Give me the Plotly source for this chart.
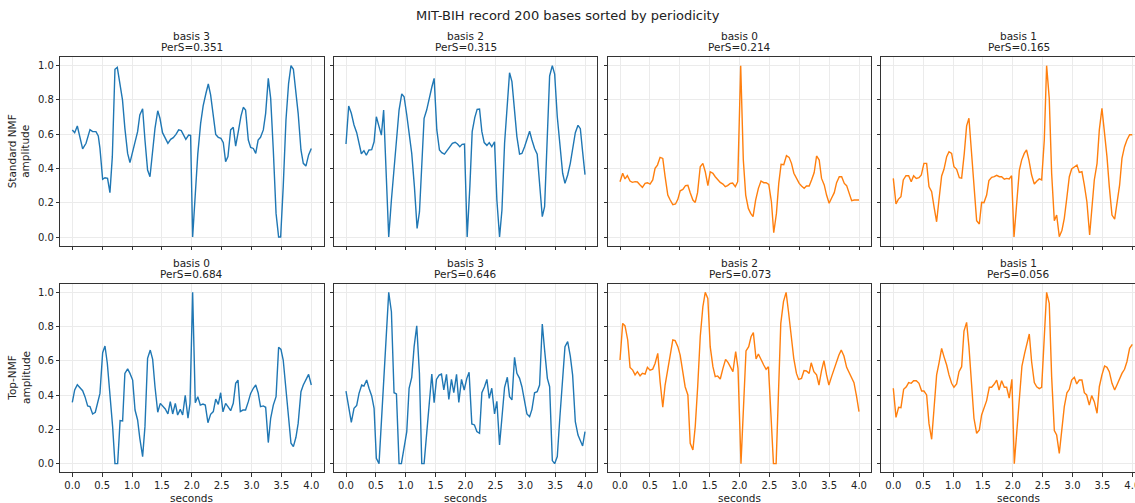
import plotly.graph_objects as go

# ---------------- data ----------------
std_b3_t = [0, 0.04, 0.084, 0.128, 0.173, 0.23, 0.296, 0.34, 0.396, 0.435, 0.463, 0.508, 0.547, 0.59, 0.63, 0.67, 0.714, 0.753, 0.8, 0.84, 0.88, 0.926, 0.965, 1.01, 1.05, 1.093, 1.13, 1.177, 1.216, 1.26, 1.30, 1.345, 1.384, 1.43, 1.467, 1.51, 1.556, 1.60, 1.646, 1.69, 1.735, 1.78, 1.824, 1.87, 1.90, 1.947, 1.98, 2.014, 2.058, 2.10, 2.148, 2.19, 2.237, 2.276, 2.315, 2.36, 2.40, 2.443, 2.488, 2.527, 2.566, 2.605, 2.65, 2.694, 2.734, 2.778, 2.823, 2.862, 2.90, 2.946, 2.985, 3.03, 3.07, 3.11, 3.15, 3.197, 3.236, 3.28, 3.32, 3.364, 3.41, 3.453, 3.487, 3.53, 3.576, 3.62, 3.66, 3.70, 3.743, 3.78, 3.827, 3.866, 3.91, 3.955, 4.0]
std_b3_v = [0.625, 0.609, 0.648, 0.586, 0.514, 0.547, 0.627, 0.615, 0.615, 0.59, 0.517, 0.337, 0.346, 0.342, 0.259, 0.469, 0.979, 0.99, 0.897, 0.80, 0.634, 0.488, 0.434, 0.498, 0.537, 0.615, 0.712, 0.749, 0.566, 0.391, 0.352, 0.498, 0.634, 0.737, 0.693, 0.609, 0.576, 0.547, 0.570, 0.58, 0.599, 0.625, 0.621, 0.595, 0.57, 0.595, 0.593, 0.0, 0.226, 0.484, 0.663, 0.765, 0.839, 0.893, 0.829, 0.693, 0.599, 0.582, 0.576, 0.551, 0.44, 0.469, 0.625, 0.640, 0.531, 0.615, 0.706, 0.757, 0.741, 0.566, 0.523, 0.517, 0.488, 0.566, 0.582, 0.625, 0.722, 0.926, 0.809, 0.508, 0.138, 0.0, 0.0, 0.294, 0.683, 0.897, 1.0, 0.979, 0.858, 0.722, 0.508, 0.430, 0.414, 0.479, 0.517]

std_b2_t = [0, 0.045, 0.089, 0.134, 0.179, 0.223, 0.257, 0.30, 0.34, 0.385, 0.43, 0.47, 0.508, 0.553, 0.592, 0.63, 0.676, 0.715, 0.76, 0.804, 0.849, 0.888, 0.933, 0.972, 1.017, 1.056, 1.10, 1.145, 1.19, 1.23, 1.268, 1.307, 1.35, 1.397, 1.436, 1.475, 1.52, 1.564, 1.603, 1.648, 1.69, 1.737, 1.78, 1.827, 1.866, 1.905, 1.944, 1.983, 2.028, 2.073, 2.112, 2.156, 2.195, 2.235, 2.274, 2.313, 2.358, 2.397, 2.44, 2.486, 2.525, 2.57, 2.61, 2.654, 2.70, 2.737, 2.777, 2.821, 2.86, 2.905, 2.944, 2.989, 3.028, 3.073, 3.112, 3.156, 3.20, 3.24, 3.285, 3.324, 3.37, 3.408, 3.453, 3.492, 3.536, 3.58, 3.626, 3.665, 3.71, 3.754, 3.793, 3.838, 3.883, 3.922, 3.96, 4.0]
std_b2_v = [0.543, 0.765, 0.722, 0.654, 0.609, 0.547, 0.486, 0.504, 0.477, 0.508, 0.51, 0.556, 0.702, 0.644, 0.595, 0.741, 0.372, 0.0, 0.216, 0.41, 0.566, 0.741, 0.835, 0.819, 0.712, 0.589, 0.488, 0.294, 0.05, 0.148, 0.41, 0.693, 0.741, 0.819, 0.874, 0.926, 0.625, 0.508, 0.492, 0.484, 0.504, 0.523, 0.547, 0.553, 0.543, 0.527, 0.541, 0.543, 0.0, 0.294, 0.615, 0.698, 0.745, 0.747, 0.615, 0.551, 0.535, 0.551, 0.527, 0.556, 0.216, 0.0, 0.158, 0.547, 0.761, 0.959, 0.907, 0.741, 0.586, 0.484, 0.488, 0.527, 0.566, 0.617, 0.566, 0.517, 0.484, 0.294, 0.119, 0.177, 0.547, 0.94, 1.0, 0.951, 0.702, 0.527, 0.372, 0.313, 0.362, 0.43, 0.508, 0.609, 0.652, 0.632, 0.498, 0.364]

std_b0_t = [0, 0.045, 0.084, 0.123, 0.168, 0.207, 0.252, 0.291, 0.336, 0.375, 0.42, 0.459, 0.503, 0.548, 0.587, 0.627, 0.671, 0.716, 0.755, 0.80, 0.84, 0.884, 0.929, 0.968, 1.007, 1.052, 1.096, 1.136, 1.175, 1.22, 1.259, 1.298, 1.343, 1.387, 1.427, 1.471, 1.51, 1.555, 1.594, 1.634, 1.678, 1.723, 1.762, 1.80, 1.846, 1.885, 1.93, 1.97, 2.02, 2.064, 2.104, 2.148, 2.187, 2.227, 2.27, 2.316, 2.36, 2.405, 2.445, 2.49, 2.534, 2.573, 2.618, 2.657, 2.696, 2.741, 2.786, 2.83, 2.87, 2.91, 2.954, 2.999, 3.038, 3.082, 3.12, 3.166, 3.206, 3.25, 3.29, 3.334, 3.373, 3.418, 3.457, 3.50, 3.54, 3.586, 3.625, 3.67, 3.71, 3.754, 3.793, 3.838, 3.877, 3.92, 3.96, 4.0]
std_b0_v = [0.323, 0.372, 0.339, 0.358, 0.327, 0.319, 0.323, 0.321, 0.304, 0.29, 0.313, 0.317, 0.309, 0.333, 0.401, 0.42, 0.465, 0.459, 0.352, 0.245, 0.216, 0.189, 0.193, 0.22, 0.27, 0.278, 0.30, 0.302, 0.259, 0.216, 0.202, 0.259, 0.41, 0.43, 0.381, 0.30, 0.381, 0.372, 0.352, 0.337, 0.319, 0.309, 0.294, 0.30, 0.313, 0.315, 0.294, 0.323, 1.0, 0.449, 0.245, 0.167, 0.138, 0.119, 0.216, 0.284, 0.327, 0.317, 0.317, 0.307, 0.206, 0.025, 0.138, 0.313, 0.424, 0.422, 0.475, 0.465, 0.43, 0.372, 0.342, 0.313, 0.298, 0.284, 0.298, 0.298, 0.333, 0.376, 0.473, 0.449, 0.342, 0.304, 0.245, 0.197, 0.226, 0.259, 0.317, 0.352, 0.352, 0.313, 0.30, 0.255, 0.212, 0.216, 0.216, 0.216]

std_b1_t = [0, 0.045, 0.084, 0.128, 0.167, 0.212, 0.257, 0.30, 0.34, 0.385, 0.43, 0.469, 0.513, 0.558, 0.597, 0.642, 0.686, 0.725, 0.764, 0.809, 0.848, 0.893, 0.932, 0.976, 1.015, 1.06, 1.105, 1.144, 1.188, 1.227, 1.266, 1.31, 1.356, 1.395, 1.44, 1.478, 1.517, 1.562, 1.60, 1.646, 1.69, 1.73, 1.774, 1.813, 1.858, 1.897, 1.94, 1.98, 2.02, 2.064, 2.11, 2.148, 2.192, 2.23, 2.27, 2.315, 2.36, 2.40, 2.443, 2.483, 2.527, 2.566, 2.61, 2.65, 2.695, 2.734, 2.778, 2.823, 2.862, 2.90, 2.946, 2.985, 3.03, 3.074, 3.113, 3.157, 3.197, 3.24, 3.286, 3.325, 3.364, 3.41, 3.448, 3.492, 3.53, 3.576, 3.615, 3.66, 3.705, 3.743, 3.788, 3.827, 3.87, 3.91, 3.955, 4.0]
std_b1_v = [0.342, 0.193, 0.22, 0.235, 0.333, 0.358, 0.358, 0.323, 0.358, 0.342, 0.346, 0.362, 0.43, 0.43, 0.294, 0.265, 0.167, 0.089, 0.216, 0.356, 0.395, 0.469, 0.498, 0.488, 0.41, 0.395, 0.346, 0.344, 0.488, 0.649, 0.693, 0.488, 0.235, 0.095, 0.076, 0.202, 0.2, 0.245, 0.329, 0.348, 0.352, 0.36, 0.352, 0.352, 0.337, 0.342, 0.339, 0.358, 0.0, 0.216, 0.391, 0.449, 0.488, 0.508, 0.449, 0.362, 0.309, 0.325, 0.339, 0.333, 0.566, 1.0, 0.809, 0.372, 0.095, 0.128, 0.002, 0.04, 0.109, 0.216, 0.352, 0.397, 0.407, 0.420, 0.377, 0.381, 0.304, 0.206, 0.012, 0.177, 0.333, 0.43, 0.625, 0.751, 0.625, 0.469, 0.294, 0.128, 0.105, 0.206, 0.304, 0.459, 0.527, 0.566, 0.597, 0.597]

top_b0_t = [0, 0.04, 0.084, 0.128, 0.173, 0.212, 0.257, 0.296, 0.34, 0.385, 0.424, 0.463, 0.508, 0.547, 0.586, 0.63, 0.675, 0.714, 0.759, 0.80, 0.842, 0.88, 0.926, 0.965, 1.01, 1.05, 1.093, 1.13, 1.177, 1.216, 1.26, 1.305, 1.345, 1.384, 1.43, 1.473, 1.517, 1.556, 1.60, 1.64, 1.68, 1.724, 1.763, 1.807, 1.847, 1.89, 1.936, 1.97, 2.014, 2.058, 2.10, 2.142, 2.187, 2.226, 2.27, 2.315, 2.36, 2.40, 2.443, 2.483, 2.522, 2.566, 2.605, 2.65, 2.694, 2.734, 2.773, 2.812, 2.856, 2.90, 2.946, 2.985, 3.03, 3.07, 3.11, 3.15, 3.197, 3.236, 3.28, 3.32, 3.364, 3.41, 3.453, 3.492, 3.53, 3.576, 3.62, 3.66, 3.70, 3.743, 3.78, 3.827, 3.866, 3.91, 3.955, 4.0]
top_b0_v = [0.358, 0.43, 0.461, 0.444, 0.426, 0.391, 0.337, 0.333, 0.29, 0.30, 0.348, 0.41, 0.648, 0.687, 0.586, 0.42, 0.216, 0.0, 0.0, 0.251, 0.249, 0.527, 0.553, 0.527, 0.488, 0.313, 0.255, 0.148, 0.041, 0.216, 0.615, 0.663, 0.609, 0.449, 0.30, 0.352, 0.333, 0.319, 0.29, 0.362, 0.29, 0.352, 0.284, 0.317, 0.284, 0.399, 0.265, 0.352, 1.0, 0.356, 0.391, 0.342, 0.348, 0.342, 0.239, 0.288, 0.304, 0.377, 0.346, 0.414, 0.302, 0.352, 0.333, 0.309, 0.352, 0.469, 0.488, 0.304, 0.313, 0.313, 0.362, 0.41, 0.44, 0.459, 0.414, 0.333, 0.337, 0.329, 0.123, 0.265, 0.342, 0.391, 0.679, 0.667, 0.605, 0.43, 0.255, 0.119, 0.099, 0.154, 0.235, 0.42, 0.459, 0.492, 0.521, 0.459]

top_b3_t = [0, 0.045, 0.089, 0.134, 0.179, 0.218, 0.263, 0.30, 0.346, 0.385, 0.43, 0.47, 0.508, 0.553, 0.592, 0.63, 0.676, 0.715, 0.76, 0.804, 0.844, 0.888, 0.927, 0.972, 1.017, 1.056, 1.10, 1.14, 1.184, 1.229, 1.268, 1.307, 1.352, 1.39, 1.436, 1.475, 1.514, 1.559, 1.598, 1.637, 1.682, 1.721, 1.765, 1.804, 1.85, 1.888, 1.933, 1.978, 2.022, 2.06, 2.106, 2.15, 2.19, 2.235, 2.274, 2.318, 2.358, 2.397, 2.44, 2.486, 2.525, 2.57, 2.61, 2.654, 2.70, 2.737, 2.777, 2.821, 2.86, 2.905, 2.944, 2.989, 3.028, 3.073, 3.112, 3.156, 3.20, 3.24, 3.285, 3.324, 3.37, 3.408, 3.453, 3.492, 3.536, 3.58, 3.626, 3.665, 3.71, 3.754, 3.793, 3.838, 3.883, 3.922, 3.96, 4.0]
top_b3_v = [0.424, 0.333, 0.241, 0.323, 0.34, 0.41, 0.459, 0.453, 0.488, 0.44, 0.395, 0.323, 0.031, 0.0, 0.235, 0.488, 0.722, 1.0, 0.887, 0.414, 0.407, 0.0, 0.0, 0.089, 0.187, 0.44, 0.504, 0.683, 0.805, 0.527, 0.0, 0.0, 0.196, 0.362, 0.523, 0.356, 0.492, 0.517, 0.523, 0.43, 0.521, 0.375, 0.492, 0.414, 0.521, 0.358, 0.492, 0.43, 0.498, 0.533, 0.232, 0.226, 0.187, 0.177, 0.414, 0.449, 0.492, 0.381, 0.44, 0.29, 0.364, 0.109, 0.294, 0.446, 0.504, 0.391, 0.372, 0.621, 0.527, 0.498, 0.449, 0.362, 0.29, 0.274, 0.317, 0.414, 0.42, 0.459, 0.815, 0.663, 0.498, 0.449, 0.018, 0.0, 0.041, 0.274, 0.517, 0.683, 0.712, 0.628, 0.517, 0.245, 0.167, 0.128, 0.103, 0.187]

top_b2_t = [0, 0.045, 0.084, 0.129, 0.168, 0.213, 0.252, 0.291, 0.336, 0.375, 0.42, 0.459, 0.503, 0.548, 0.587, 0.632, 0.671, 0.716, 0.755, 0.80, 0.84, 0.884, 0.923, 0.968, 1.007, 1.052, 1.09, 1.136, 1.175, 1.22, 1.259, 1.30, 1.343, 1.387, 1.427, 1.47, 1.51, 1.555, 1.594, 1.634, 1.678, 1.723, 1.767, 1.807, 1.846, 1.89, 1.936, 1.975, 2.025, 2.07, 2.109, 2.154, 2.193, 2.232, 2.277, 2.316, 2.36, 2.405, 2.445, 2.484, 2.528, 2.568, 2.613, 2.652, 2.691, 2.736, 2.78, 2.82, 2.863, 2.908, 2.953, 2.99, 3.038, 3.08, 3.12, 3.166, 3.20, 3.245, 3.29, 3.33, 3.373, 3.413, 3.457, 3.496, 3.541, 3.58, 3.625, 3.664, 3.703, 3.748, 3.793, 3.832, 3.87, 3.916, 3.96, 4.0]
top_b2_v = [0.605, 0.819, 0.804, 0.722, 0.562, 0.546, 0.518, 0.537, 0.512, 0.527, 0.523, 0.562, 0.546, 0.552, 0.585, 0.644, 0.479, 0.329, 0.459, 0.546, 0.644, 0.722, 0.718, 0.683, 0.634, 0.546, 0.449, 0.401, 0.119, 0.08, 0.216, 0.449, 0.741, 0.916, 1.0, 0.965, 0.683, 0.566, 0.508, 0.512, 0.494, 0.556, 0.609, 0.591, 0.562, 0.537, 0.654, 0.556, 0.0, 0.313, 0.658, 0.683, 0.741, 0.765, 0.611, 0.64, 0.605, 0.576, 0.551, 0.566, 0.274, 0.0, 0.0, 0.43, 0.819, 0.946, 1.0, 0.887, 0.741, 0.615, 0.527, 0.492, 0.498, 0.543, 0.541, 0.527, 0.589, 0.537, 0.518, 0.459, 0.543, 0.601, 0.518, 0.459, 0.508, 0.551, 0.595, 0.634, 0.663, 0.628, 0.562, 0.531, 0.508, 0.473, 0.391, 0.304]

top_b1_t = [0, 0.045, 0.089, 0.128, 0.173, 0.218, 0.257, 0.30, 0.34, 0.385, 0.43, 0.474, 0.513, 0.558, 0.597, 0.642, 0.68, 0.725, 0.764, 0.809, 0.848, 0.893, 0.932, 0.976, 1.015, 1.06, 1.10, 1.144, 1.183, 1.227, 1.266, 1.31, 1.35, 1.395, 1.44, 1.478, 1.523, 1.562, 1.607, 1.646, 1.69, 1.73, 1.77, 1.813, 1.858, 1.897, 1.94, 1.985, 2.025, 2.07, 2.114, 2.153, 2.198, 2.237, 2.276, 2.315, 2.36, 2.40, 2.443, 2.483, 2.527, 2.566, 2.61, 2.65, 2.695, 2.734, 2.778, 2.823, 2.862, 2.906, 2.946, 2.985, 3.03, 3.07, 3.113, 3.157, 3.197, 3.236, 3.28, 3.32, 3.364, 3.41, 3.448, 3.492, 3.536, 3.576, 3.615, 3.66, 3.705, 3.743, 3.788, 3.827, 3.87, 3.91, 3.955, 4.0]
top_b1_v = [0.44, 0.27, 0.329, 0.327, 0.434, 0.449, 0.473, 0.469, 0.484, 0.484, 0.469, 0.424, 0.424, 0.401, 0.235, 0.142, 0.313, 0.518, 0.586, 0.673, 0.625, 0.576, 0.518, 0.469, 0.446, 0.465, 0.537, 0.566, 0.774, 0.825, 0.683, 0.488, 0.265, 0.177, 0.196, 0.284, 0.323, 0.368, 0.446, 0.446, 0.465, 0.488, 0.43, 0.484, 0.446, 0.446, 0.383, 0.492, 0.0, 0.187, 0.391, 0.57, 0.644, 0.693, 0.757, 0.595, 0.473, 0.449, 0.438, 0.446, 0.732, 1.0, 0.936, 0.508, 0.193, 0.167, 0.06, 0.187, 0.333, 0.414, 0.434, 0.488, 0.504, 0.465, 0.488, 0.488, 0.414, 0.401, 0.342, 0.397, 0.362, 0.294, 0.449, 0.518, 0.57, 0.562, 0.537, 0.469, 0.43, 0.459, 0.498, 0.527, 0.551, 0.595, 0.673, 0.697]

basis_labels = ["basis 3", "basis 2", "basis 0", "basis 1", "basis 0", "basis 3", "basis 2", "basis 1"]
pers_labels = ["PerS=0.351", "PerS=0.315", "PerS=0.214", "PerS=0.165", "PerS=0.684", "PerS=0.646", "PerS=0.073", "PerS=0.056"]
row_labels = ["Standard NMF<br>amplitude", "Top-NMF<br>amplitude"]
x_ticks = [0.0, 0.5, 1.0, 1.5, 2.0, 2.5, 3.0, 3.5, 4.0]
y_ticks = [0.0, 0.2, 0.4, 0.6, 0.8, 1.0]
title_text = "MIT-BIH record 200 bases sorted by periodicity"
x_label = "seconds"

series_t = [std_b3_t, std_b2_t, std_b0_t, std_b1_t, top_b0_t, top_b3_t, top_b2_t, top_b1_t]
series_v = [std_b3_v, std_b2_v, std_b0_v, std_b1_v, top_b0_v, top_b3_v, top_b2_v, top_b1_v]

# ---------------- layout ----------------
W, H = 1135, 503
BLUE, ORANGE = "#1f77b4", "#ff7f0e"
colors = [BLUE, BLUE, ORANGE, ORANGE, BLUE, BLUE, ORANGE, ORANGE]
FONT = "DejaVu Sans"
FRAME = "#333333"

# pixel positions of axis frames
col_px = [(60.3, 323.5), (334.0, 597.0), (608.0, 871.0), (881.3, 1135.0)]
col_zero_px = [72.3, 346.0, 620.0, 893.3]
px_per_s = 59.75
row_px = [(57.1, 245.6), (283.8, 472.2)]

fig = go.Figure()
annotations = []
layout = {}
for i in range(8):
    r, c = divmod(i, 4)
    n = "" if i == 0 else str(i + 1)
    x0, x1 = col_px[c]
    y0, y1 = row_px[r]
    xr = [(x0 - col_zero_px[c]) / px_per_s, (x1 - col_zero_px[c]) / px_per_s]
    fig.add_trace(go.Scatter(x=series_t[i], y=series_v[i], mode="lines",
                             line=dict(color=colors[i], width=1.4),
                             xaxis="x" + n, yaxis="y" + n, showlegend=False,
                             hoverinfo="skip"))
    layout["xaxis" + n] = dict(
        domain=[x0 / W, x1 / W], range=xr, anchor="y" + n, automargin=False,
        tickvals=x_ticks, ticktext=[f"{v:.1f}" for v in x_ticks],
        showticklabels=(r == 1), ticks="outside", ticklen=3.5, tickwidth=0.8,
        tickcolor=FRAME, showline=True, linecolor=FRAME, linewidth=1, mirror=True,
        showgrid=True, gridcolor="#ebebeb", gridwidth=0.8, zeroline=False,
        ticklabeloverflow="allow",
        tickfont=dict(family=FONT, size=10, color="#222"), fixedrange=True)
    layout["yaxis" + n] = dict(
        domain=[1 - y1 / H, 1 - y0 / H], range=[-0.05, 1.05], anchor="x" + n, automargin=False,
        tickvals=y_ticks, ticktext=[f"{v:.1f}" for v in y_ticks],
        showticklabels=(c == 0), ticks="outside", ticklen=3.5, tickwidth=0.8,
        tickcolor=FRAME, showline=True, linecolor=FRAME, linewidth=1, mirror=True,
        showgrid=True, gridcolor="#ebebeb", gridwidth=0.8, zeroline=False,
        tickfont=dict(family=FONT, size=10, color="#222"), fixedrange=True)
    xc = ((x0 + col_zero_px[c] + 4.2 * px_per_s + 12) / 2) / W if c == 3 else ((x0 + x1) / 2) / W
    annotations.append(dict(text=basis_labels[i], x=xc, y=1 - (y0 - 20.6) / H,
                            xref="paper", yref="paper", xanchor="center", yanchor="middle",
                            showarrow=False, font=dict(family=FONT, size=10.5, color="#222")))
    annotations.append(dict(text=pers_labels[i], x=xc, y=1 - (y0 - 9.8) / H,
                            xref="paper", yref="paper", xanchor="center", yanchor="middle",
                            showarrow=False, font=dict(family=FONT, size=10.5, color="#222")))
    if r == 1:
        annotations.append(dict(text=x_label, x=xc, y=1 - 497.5 / H,
                                xref="paper", yref="paper", xanchor="center", yanchor="middle",
                                showarrow=False, font=dict(family=FONT, size=10.5, color="#222")))

for r in range(2):
    y0, y1 = row_px[r]
    annotations.append(dict(text=row_labels[r], x=19 / W, y=1 - ((y0 + y1) / 2) / H,
                            xref="paper", yref="paper", xanchor="center", yanchor="middle",
                            textangle=-90, showarrow=False,
                            font=dict(family=FONT, size=10.5, color="#222")))

annotations.append(dict(text=title_text, x=0.5, y=1 - 16 / H, xref="paper", yref="paper",
                        xanchor="center", yanchor="middle", showarrow=False,
                        font=dict(family=FONT, size=13, color="#222")))

fig.update_layout(width=W, height=H, margin=dict(l=0, r=0, t=0, b=0, autoexpand=False),
                  paper_bgcolor="white", plot_bgcolor="white",
                  annotations=annotations, **layout)

fig.write_html("out.html", config={"displayModeBar": False})

# remove the browser's default page margin so the figure sits at the window origin
with open("out.html", "r", encoding="utf-8") as f:
    html = f.read()
html = html.replace("<head>", "<head><style>html,body{margin:0;padding:0;overflow:hidden;}</style>", 1)
with open("out.html", "w", encoding="utf-8") as f:
    f.write(html)
